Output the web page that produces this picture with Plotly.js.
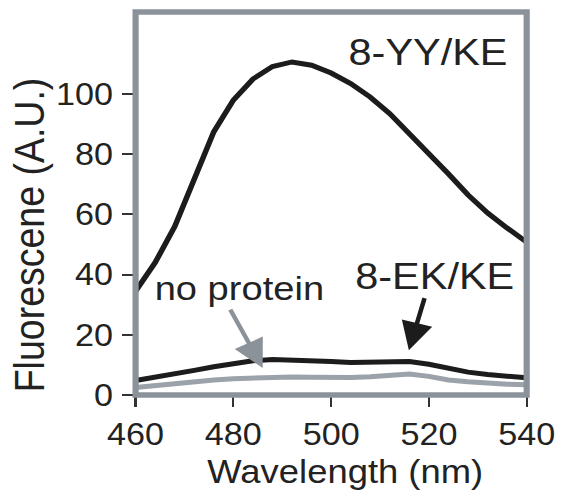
<!DOCTYPE html>
<html>
<head>
<meta charset="utf-8">
<script src="https://cdn.plot.ly/plotly-3.0.1.min.js"></script>
<style>
html,body{margin:0;padding:0;background:#fff;overflow:hidden;width:567px;height:497px;}
#chart{width:506px;height:497px;transform:scaleX(1.1206);transform-origin:0 0;}
</style>
</head>
<body>
<div id="chart"></div>
<script>
// Wavelength (nm)
var wavelength = [460,464,468,472,476,480,484,488,492,496,500,504,508,512,516,520,524,528,532,536,540];
// Fluorescence (A.U.)
var yyKE = [34.5,44,56,72,87.5,98,105,109.2,110.7,109.6,107,103.5,99,93.5,87,80.5,73.5,66.5,60.5,55.5,50.8];
var ekKE = [4.8,5.8,7,8.2,9.4,10.5,11.4,11.8,11.7,11.4,11.1,10.8,10.8,11,11.1,10.2,8.8,7.6,6.8,6.2,5.7];
var noProtein = [2.5,3.2,3.8,4.4,5,5.4,5.7,5.9,6,5.9,5.8,5.8,6.1,6.6,7,6.2,5,4.4,3.9,3.6,3.4];
var xTicks = [460,480,500,520,540];
var yTicks = [0,20,40,60,80,100];
var seriesNames = ['8-YY/KE','8-EK/KE','no protein'];

var FONT = 'Liberation Sans, Arial, Helvetica, sans-serif';
var BLACK = '#1c1c1c';
var GRAY = '#9ba2a9';
var BORDER = '#8b9299';
var TXT = '#222222';

var traces = [
  {x: wavelength, y: noProtein, mode: 'lines', name: seriesNames[2], line: {color: GRAY, width: 5}},
  {x: wavelength, y: ekKE, mode: 'lines', name: seriesNames[1], line: {color: BLACK, width: 5}},
  {x: wavelength, y: yyKE, mode: 'lines', name: seriesNames[0], line: {color: BLACK, width: 5}}
];

var layout = {
  width: 506, height: 497,
  margin: {l: 121.4, r: 35.7, t: 12, b: 102, pad: 0},
  paper_bgcolor: '#ffffff', plot_bgcolor: '#ffffff',
  showlegend: false,
  font: {family: FONT, color: TXT},
  xaxis: {
    range: [460, 540], tickvals: xTicks, ticktext: xTicks.map(String),
    ticks: 'outside', ticklen: 11, tickwidth: 2, tickcolor: '#333',
    ticklabelstandoff: 1,
    showgrid: false, zeroline: false, showline: false,
    tickfont: {family: FONT, size: 30.5, color: TXT}
  },
  yaxis: {
    range: [0, 127.3], tickvals: yTicks, ticktext: yTicks.map(String),
    ticks: 'outside', ticklen: 11, tickwidth: 2, tickcolor: '#333',
    ticklabelstandoff: 2,
    showgrid: false, zeroline: false, showline: false,
    tickfont: {family: FONT, size: 30.5, color: TXT}
  },
  shapes: [
    {type: 'rect', xref: 'paper', yref: 'paper', x0: 0, x1: 1, y0: 0, y1: 1,
     line: {color: BORDER, width: 5.5}, layer: 'above'}
  ],
  annotations: [
    {text: 'Wavelength (nm)', xref: 'paper', yref: 'paper', x: 0.537, y: -0.2,
     xanchor: 'center', yanchor: 'middle', showarrow: false, font: {size: 32.5, color: TXT}},
    {text: 'Fluorescene (A.U.)', xref: 'paper', yref: 'paper', x: -0.271, y: 0.418,
     xanchor: 'center', yanchor: 'middle', textangle: -90, showarrow: false, font: {size: 37.5, color: TXT}},
    {text: seriesNames[0], xref: 'x', yref: 'y', x: 519.9, y: 114,
     xanchor: 'center', yanchor: 'middle', showarrow: false, font: {size: 37, color: TXT}},
    {text: seriesNames[1], xref: 'x', yref: 'y', x: 521.1, y: 39.5,
     xanchor: 'center', yanchor: 'middle', showarrow: false, font: {size: 37, color: TXT}},
    {text: seriesNames[2], xref: 'x', yref: 'y', x: 481.3, y: 35.5,
     xanchor: 'center', yanchor: 'middle', showarrow: false, font: {size: 34, color: TXT}},
    {text: '', xref: 'x', yref: 'y', x: 486, y: 9.0, axref: 'x', ayref: 'y', ax: 479.2, ay: 28.9,
     showarrow: true, arrowhead: 2, arrowsize: 1.4, arrowwidth: 4, arrowcolor: BORDER, standoff: 0},
    {text: '', xref: 'x', yref: 'y', x: 515.9, y: 14.9, axref: 'x', ayref: 'y', ax: 519.2, ay: 32.7,
     showarrow: true, arrowhead: 2, arrowsize: 1.4, arrowwidth: 4, arrowcolor: BLACK, standoff: 0}
  ]
};

Plotly.newPlot('chart', traces, layout, {displayModeBar: false, staticPlot: true});
</script>
</body>
</html>
